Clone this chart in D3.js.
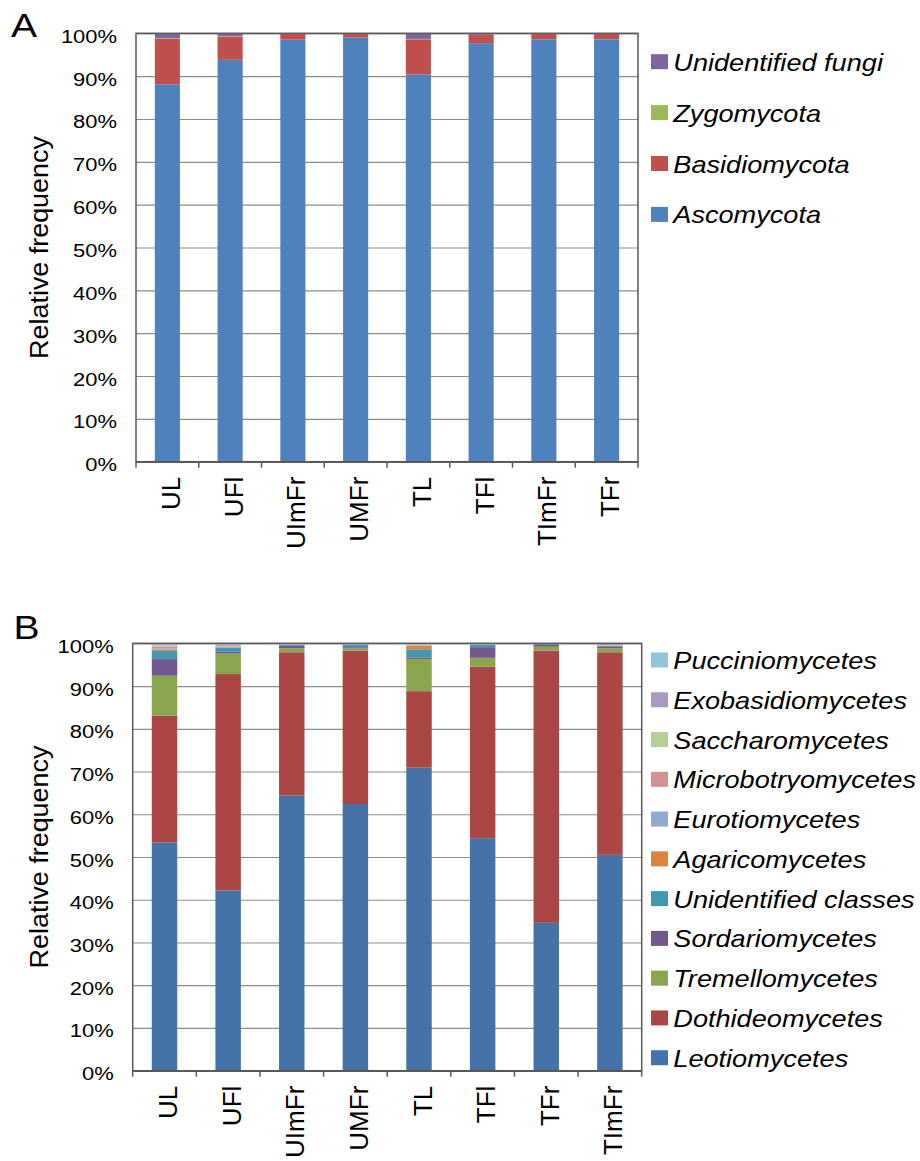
<!DOCTYPE html>
<html><head><meta charset="utf-8">
<script src="https://cdn.jsdelivr.net/npm/d3@7"></script>
<style>
body{margin:0;background:#fff}
svg{display:block;font-family:"Liberation Sans",Arial,Helvetica,sans-serif}
</style>
</head><body>
<svg id="c" width="920" height="1161"></svg>
<script>
// ---------- Panel A data (relative frequency, %) ----------
const categoriesA = ["UL","UFl","UImFr","UMFr","TL","TFl","TImFr","TFr"];
const seriesA = ["Ascomycota","Basidiomycota","Zygomycota","Unidentified fungi"];
const colorsA = ["#4F81BD","#C0504D","#9BBB59","#8064A2"];
const ascomycota        = [88.1, 93.8, 98.5, 99.0, 90.4, 97.7, 98.6, 98.6];
const basidiomycota     = [10.7,  5.4,  1.4,  0.9,  8.2,  1.9,  1.3,  1.3];
const zygomycota        = [ 0.1,  0.1, 0.05, 0.05,  0.1, 0.05, 0.05, 0.05];
const unidentifiedFungi = [ 1.1,  0.7, 0.05, 0.05,  1.3, 0.35, 0.05, 0.05];

// ---------- Panel B data (relative frequency, %) ----------
const categoriesB = ["UL","UFl","UImFr","UMFr","TL","TFl","TFr","TImFr"];
const seriesB = ["Leotiomycetes","Dothideomycetes","Tremellomycetes","Sordariomycetes",
  "Unidentified classes","Agaricomycetes","Eurotiomycetes","Microbotryomycetes",
  "Saccharomycetes","Exobasidiomycetes","Pucciniomycetes"];
const colorsB = ["#4572A7","#AA4643","#89A54E","#71588F","#4198AF","#DB843D",
  "#93A9CF","#D19392","#B9CD96","#A99BBD","#92C5D8"];
const leotiomycetes       = [53.4, 42.2, 64.4, 62.4, 70.9, 54.4, 34.6, 50.5];
const dothideomycetes     = [29.7, 50.6, 33.5, 35.9, 17.9, 40.1, 63.7, 47.4];
const tremellomycetes     = [ 9.3,  4.8,  0.9,  0.5,  7.5,  2.1,  0.9,  0.9];
const sordariomycetes     = [ 3.9,  0.4,  0.6,  0.3,  0.4,  2.5,  0.4,  0.5];
const unidentifiedClasses = [ 1.9,  1.0,  0.2,  0.5,  1.9,  0.5,  0.2,  0.1];
const agaricomycetes      = [ 0.3,  0.1,  0.1,  0.1,  0.8, 0.05, 0.05, 0.05];
const eurotiomycetes      = [ 0.3,  0.1,  0.1,  0.2,  0.1,  0.1, 0.05, 0.05];
const microbotryomycetes  = [ 0.4,  0.1, 0.05,  0.0,  0.1, 0.05, 0.05, 0.05];
const saccharomycetes     = [ 0.3,  0.1, 0.05,  0.0,  0.2, 0.05, 0.05, 0.05];
const exobasidiomycetes   = [ 0.3,  0.4, 0.05, 0.05,  0.1,  0.1,  0.0, 0.35];
const pucciniomycetes     = [ 0.2,  0.2, 0.05, 0.05,  0.1, 0.05,  0.0, 0.05];

const yTicks = [0,0.1,0.2,0.3,0.4,0.5,0.6,0.7,0.8,0.9,1.0];

const svg = d3.select("#c");
const SX = 1.18; // horizontal stretch of the reference

function panel(o){
  const g = svg.append("g");
  const x = d3.scaleBand().domain(o.cats).range([o.left,o.right]).paddingInner(0.6).paddingOuter(0.3);
  const y = d3.scaleLinear().domain([0,1]).range([o.bottom,o.top]);
  const W = o.right - o.left;

  // gridlines
  g.append("g").attr("transform",`translate(${o.left},0)`)
    .call(d3.axisLeft(y).tickValues(yTicks).tickSize(-W).tickFormat(""))
    .call(s=>s.select(".domain").remove())
    .call(s=>s.selectAll("line").attr("stroke","#8c8c8c").attr("stroke-width",1.2));

  // data rows
  const rows = o.cats.map((c,i)=>{
    const r = {cat:c};
    o.series.forEach((s,j)=>{ r[s] = o.values[j][i]; });
    return r;
  });
  const stack = d3.stack().keys(o.series).offset(d3.stackOffsetExpand)(rows);
  g.append("g").selectAll("g").data(stack).join("g")
    .attr("fill",(d,i)=>o.colors[i])
    .selectAll("rect").data(d=>d).join("rect")
    .attr("x",d=>x(d.data.cat))
    .attr("width",x.bandwidth())
    .attr("y",d=>y(d[1]))
    .attr("height",d=>Math.max(0,y(d[0])-y(d[1])));

  // frame
  g.append("rect").attr("x",o.left).attr("y",o.top).attr("width",W).attr("height",o.bottom-o.top)
    .attr("fill","none").attr("stroke","#5a5a5a").attr("stroke-width",1.5);

  // y tick labels
  g.append("g").attr("transform",`translate(${o.left},0)`)
    .call(d3.axisLeft(y).tickValues(yTicks).tickFormat(d3.format(".0%")).tickSize(0).tickPadding(0))
    .call(s=>s.select(".domain").remove())
    .call(s=>s.selectAll("text")
      .attr("x",-19/SX).attr("dy",null).attr("y",9)
      .attr("transform",`scale(${SX},1)`)
      .attr("font-size",18.6).attr("fill","#000")
      .attr("font-family",'"Liberation Sans",Arial,sans-serif'));

  // x axis line + boundary ticks + labels
  const xa = g.append("g").attr("transform",`translate(0,${o.bottom})`)
    .call(d3.axisBottom(x).tickSize(0).tickPadding(0));
  xa.select(".domain").attr("stroke","#5a5a5a").attr("stroke-width",1.5);
  xa.selectAll("text")
    .attr("font-size",26).attr("fill","#000")
    .attr("font-family",'"Liberation Sans",Arial,sans-serif')
    .attr("text-anchor","end")
    .attr("y",0).attr("dy",null)
    .attr("transform",`translate(${x.bandwidth()/2 - x.bandwidth()/2},15) rotate(-90)`)
    .attr("x",0).attr("dy","12.6");
  const step = x.step();
  g.append("g").selectAll("line").data(d3.range(o.cats.length+1)).join("line")
    .attr("x1",i=>o.left+i*step).attr("x2",i=>o.left+i*step)
    .attr("y1",o.bottom).attr("y2",o.bottom+6)
    .attr("stroke","#5a5a5a").attr("stroke-width",1.5);

  // y title
  g.append("text")
    .attr("transform",`translate(${o.titleX},${(o.top+o.bottom)/2}) rotate(-90) scale(1.055,1)`)
    .attr("text-anchor","middle").attr("font-size",25.5).attr("fill","#000")
    .text("Relative frequency");

  // panel letter
  g.append("text").attr("transform",`translate(${o.letterX},${o.letterY}) scale(1.15,1)`)
    .attr("font-size",34).attr("fill","#000").text(o.letter);

  // legend (reverse order, top = last series)
  const leg = g.append("g");
  const items = o.series.map((s,i)=>({s,c:o.colors[i]})).reverse();
  items.forEach((it,k)=>{
    const cy = o.legTop + k*o.legStep;
    leg.append("rect").attr("x",651).attr("y",cy-7.5).attr("width",17).attr("height",15).attr("fill",it.c);
    leg.append("text").attr("transform",`translate(673.3,${cy+9}) scale(${SX},1)`)
      .attr("font-size",23).attr("font-style","italic").attr("fill","#000").text(it.s);
  });
}

panel({
  cats:categoriesA, series:seriesA, colors:colorsA,
  values:[ascomycota,basidiomycota,zygomycota,unidentifiedFungi],
  left:136, right:638, top:33.3, bottom:461.7,
  titleX:48, letter:"A", letterX:11, letterY:36.5,
  legTop:61.7, legStep:50.9
});
panel({
  cats:categoriesB, series:seriesB, colors:colorsB,
  values:[leotiomycetes,dothideomycetes,tremellomycetes,sordariomycetes,unidentifiedClasses,
          agaricomycetes,eurotiomycetes,microbotryomycetes,saccharomycetes,exobasidiomycetes,pucciniomycetes],
  left:132.7, right:641.7, top:643.3, bottom:1070.7,
  titleX:48, letter:"B", letterX:13.5, letterY:639.3,
  legTop:660, legStep:39.77
});
</script>
</body></html>
